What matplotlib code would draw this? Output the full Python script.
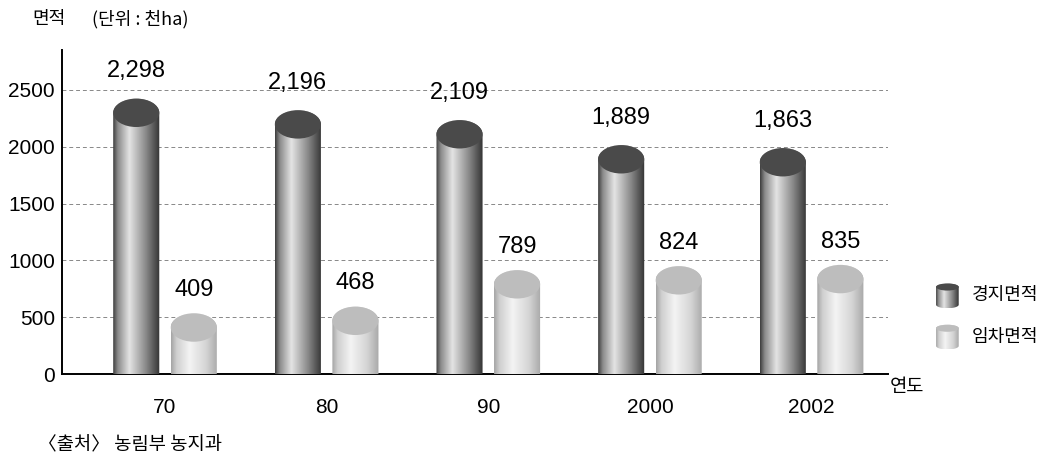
import numpy as np
import matplotlib
matplotlib.use("Agg")
import matplotlib.pyplot as plt
from matplotlib.path import Path
from matplotlib.patches import PathPatch, Ellipse
from matplotlib.colors import LinearSegmentedColormap

years = ["70", "80", "90", "2000", "2002"]
farmland = [2298, 2196, 2109, 1889, 1863]   # 경지면적
leased = [409, 468, 789, 824, 835]          # 임차면적
series_names = ["경지면적", "임차면적"]

KFONT = ["Noto Sans CJK KR", "DejaVu Sans"]
NFONT = ["Liberation Sans", "DejaVu Sans"]

dark_cmap = LinearSegmentedColormap.from_list(
    "dark", [(0, "#3c3c3c"), (0.1, "#8a8a8a"), (0.35, "#e4e4e4"),
             (0.7, "#8a8a8a"), (1, "#333333")])
light_cmap = LinearSegmentedColormap.from_list(
    "light", [(0, "#a4a4a4"), (0.12, "#cfcfcf"), (0.4, "#f4f4f4"),
              (0.75, "#d4d4d4"), (1, "#a8a8a8")])
grad = np.linspace(0, 1, 256).reshape(1, -1)


def cylinder(ax, xc, width, value, ry, cmap, cap, z=3):
    rx = width / 2
    t = np.linspace(np.pi, 2 * np.pi, 60)
    bottom = np.column_stack([xc + rx * np.cos(t), ry * np.sin(t)])
    t2 = np.linspace(0, np.pi, 60)
    top = np.column_stack([xc + rx * np.cos(t2), value + ry * np.sin(t2)])
    verts = np.vstack([bottom, top, bottom[:1]])
    codes = [Path.MOVETO] + [Path.LINETO] * (len(verts) - 2) + [Path.CLOSEPOLY]
    body = PathPatch(Path(verts, codes), facecolor="none", edgecolor="none",
                     transform=ax.transData)
    ax.add_patch(body)
    im = ax.imshow(grad, cmap=cmap, aspect="auto", zorder=z,
                   extent=(xc - rx, xc + rx, -ry, value + ry),
                   interpolation="bilinear")
    im.set_clip_path(body)
    ax.add_patch(Ellipse((xc, value), width, 2 * ry, facecolor=cap,
                         edgecolor="none", zorder=z + 0.1))


fig = plt.figure(figsize=(10.48, 4.58), dpi=100)
ax = fig.add_axes([0.0592, 0.1834, 0.7877, 0.7078])

x = np.arange(len(years))
bw = 0.285
off = 0.178
for i in range(len(years)):
    cylinder(ax, x[i] - off, bw, farmland[i], 125, dark_cmap, "#4a4a4a")
    cylinder(ax, x[i] + off, bw, leased[i], 125, light_cmap, "#bdbdbd")
    ax.annotate(f"{farmland[i]:,}", (x[i] - off, farmland[i]),
                xytext=(0, 22), textcoords="offset points", ha="center",
                va="bottom", fontsize=17, family=NFONT)
    ax.annotate(f"{leased[i]:,}", (x[i] + off, leased[i]),
                xytext=(0, 19), textcoords="offset points", ha="center",
                va="bottom", fontsize=17, family=NFONT)

ax.set_xlim(-0.637, 4.47)
ax.set_ylim(0, 2852)
ax.set_yticks([0, 500, 1000, 1500, 2000, 2500])
ax.set_xticks(x)
ax.set_xticklabels(years, family=NFONT, fontsize=15)
for lb in ax.get_yticklabels():
    lb.set_family(NFONT)
    lb.set_fontsize(15)
ax.tick_params(axis="both", length=0)
ax.tick_params(axis="x", pad=17)
ax.tick_params(axis="y", pad=5)
ax.yaxis.grid(True, linestyle=(0, (4, 3)), color="#888888", linewidth=0.7)
ax.set_axisbelow(True)
for s in ["top", "right"]:
    ax.spines[s].set_visible(False)
for s in ["left", "bottom"]:
    ax.spines[s].set_linewidth(1.4)
    ax.spines[s].set_zorder(2)

fig.text(0.031, 0.958, "면적", family=KFONT, fontsize=13, va="center")
fig.text(0.088, 0.958, "(단위 : 천ha)", family=KFONT, fontsize=13, va="center")
fig.text(0.849, 0.157, "연도", family=KFONT, fontsize=13.5, va="center")
fig.text(0.036, 0.028, "〈출처〉 농림부 농지과", family=KFONT, fontsize=13.5,
         va="center")

# legend with small cylinder icons
for k, (cmap, cap, name) in enumerate(zip([dark_cmap, light_cmap],
                                          ["#4a4a4a", "#bdbdbd"],
                                          series_names)):
    yb = 0.325 - k * 0.09
    iax = fig.add_axes([0.892, yb, 0.024, 0.058])
    iax.set_xlim(-0.5, 0.5)
    iax.set_ylim(-0.25, 1.25)
    iax.axis("off")
    cylinder(iax, 0, 0.9, 1.0, 0.2, cmap, cap)
    fig.text(0.927, yb + 0.03, name, family=KFONT, fontsize=13, va="center")

fig.savefig("out.png", dpi=100)
